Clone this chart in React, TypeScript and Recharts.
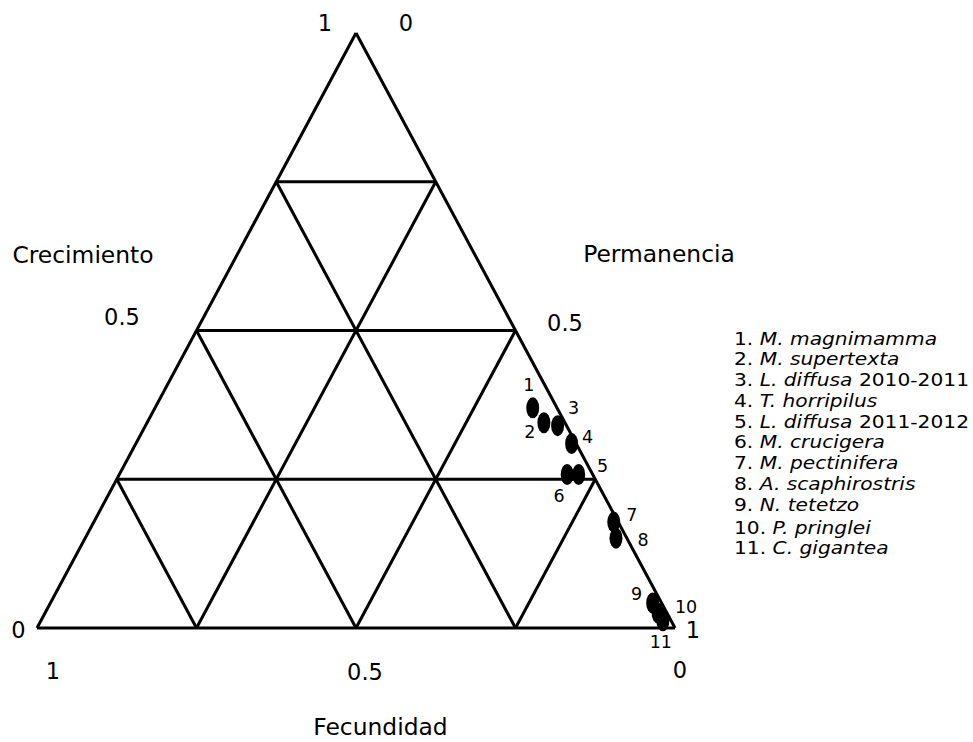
import { ScatterChart, Scatter, XAxis, YAxis, ReferenceLine } from "recharts";

// Ternary proportions for each species (crecimiento + permanencia + fecundidad = 1)
const species = [
  "M. magnimamma",
  "M. supertexta",
  "L. diffusa",
  "T. horripilus",
  "L. diffusa",
  "M. crucigera",
  "M. pectinifera",
  "A. scaphirostris",
  "N. tetetzo",
  "P. pringlei",
  "C. gigantea",
];
const periods = ["", "", "2010-2011", "", "2011-2012", "", "", "", "", "", ""];
const crecimiento = [0.37, 0.345, 0.34, 0.31, 0.258, 0.258, 0.178, 0.151, 0.042, 0.025, 0.012];
const permanencia = [0.592, 0.622, 0.646, 0.683, 0.72, 0.702, 0.815, 0.832, 0.944, 0.961, 0.975];
const fecundidad = [0.038, 0.033, 0.014, 0.007, 0.022, 0.04, 0.007, 0.017, 0.014, 0.014, 0.013];

// grid levels along each ternary axis
const gridLevels = [0, 0.25, 0.5, 0.75];

// where each point's number sits relative to its dot
const labelOffsets = [
  [-4, -23],
  [-14, 9],
  [16, -18],
  [16, -7],
  [24, -9],
  [-8, 21],
  [18, -8],
  [27, 1],
  [-16, -10],
  [28, -7],
  [-2, 21],
];

const FONT = "'DejaVu Sans', sans-serif";

// ternary (crecimiento, permanencia) -> cartesian, crecimiento vertex on top
const toXY = (c: number, p: number) => ({ x: p + c / 2, y: c });

const points = species.map((name, i) => ({
  id: String(i + 1),
  name,
  c: crecimiento[i],
  p: permanencia[i],
  f: fecundidad[i],
  ...toXY(crecimiento[i], 1 - crecimiento[i] - fecundidad[i]),
}));

type Seg = [{ x: number; y: number }, { x: number; y: number }];
const segments: Seg[] = [];
gridLevels.forEach((k) => {
  // constant crecimiento
  segments.push([toXY(k, 0), toXY(k, 1 - k)]);
  // constant permanencia
  segments.push([toXY(0, k), toXY(1 - k, k)]);
  // constant fecundidad
  segments.push([toXY(0, 1 - k), toXY(1 - k, 0)]);
});

const Dot = (props: any) => {
  const { cx, cy, payload } = props;
  const [dx, dy] = labelOffsets[Number(payload.id) - 1];
  return (
    <g>
      <ellipse cx={cx} cy={cy} rx={6.5} ry={10.5} fill="#000" />
      <text
        x={cx + dx}
        y={cy + dy + 6.5}
        textAnchor="middle"
        fontSize={17.5}
        fontFamily={FONT}
        fill="#000"
      >
        {payload.id}
      </text>
    </g>
  );
};

const axisText = [
  { t: "1", x: 325, y: 31, s: 22.5 },
  { t: "0", x: 406, y: 31, s: 22.5 },
  { t: "Crecimiento", x: 83, y: 263, s: 23.4 },
  { t: "Permanencia", x: 659, y: 262, s: 23.4 },
  { t: "0.5", x: 122, y: 325, s: 22.5 },
  { t: "0.5", x: 565, y: 331, s: 22.5 },
  { t: "0", x: 18.5, y: 638, s: 22.5 },
  { t: "1", x: 693, y: 638, s: 22.5 },
  { t: "1", x: 53, y: 679, s: 22.5 },
  { t: "0.5", x: 365, y: 680, s: 22.5 },
  { t: "0", x: 680, y: 678, s: 22.5 },
  { t: "Fecundidad", x: 380.5, y: 735, s: 23.4 },
];

export default function App() {
  return (
    <div style={{ position: "absolute", left: 0, top: 0, width: 973, height: 742, background: "#fff" }}>
      <ScatterChart
        width={973}
        height={742}
        margin={{ top: 33, right: 298, bottom: 114, left: 37 }}
      >
        <XAxis type="number" dataKey="x" domain={[0, 1]} hide />
        <YAxis type="number" dataKey="y" domain={[0, 1]} hide />
        {segments.map((s, i) => (
          <ReferenceLine
            key={i}
            segment={s}
            stroke="#000"
            strokeWidth={3}
            ifOverflow="visible"
          />
        ))}
        <Scatter data={points} shape={Dot} isAnimationActive={false} />
      </ScatterChart>
      <svg
        width={973}
        height={742}
        style={{ position: "absolute", left: 0, top: 0, pointerEvents: "none" }}
      >
        {axisText.map((a, i) => (
          <text
            key={i}
            x={a.x}
            y={a.y}
            textAnchor="middle"
            fontSize={a.s}
            fontFamily={FONT}
            fill="#000"
          >
            {a.t}
          </text>
        ))}
        {/* species key: compact glyphs widened a little */}
        <g transform="translate(734 344.5) scale(1.148 1)">
          <text x={0} y={0} fontSize={17.6} fontFamily={FONT} fill="#000">
            {species.map((s, i) => (
              <tspan key={i} x={0} dy={i === 0 ? 0 : i === 9 ? 22.8 : 20.8}>
                {i + 1}. <tspan fontStyle="italic">{s}</tspan>
                {periods[i] ? " " + periods[i] : ""}
              </tspan>
            ))}
          </text>
        </g>
      </svg>
    </div>
  );
}
